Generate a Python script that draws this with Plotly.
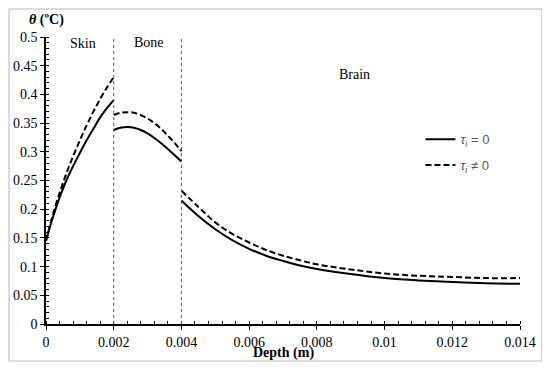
import plotly.graph_objects as go

# ---- data ----
depth_skin = [0, 0.0002, 0.0004, 0.0006, 0.0008, 0.001, 0.0012, 0.0014, 0.0016, 0.0018, 0.002]
skin_tau0 = [0.145, 0.185, 0.220, 0.250, 0.275, 0.298, 0.320, 0.340, 0.360, 0.376, 0.390]
skin_tau1 = [0.145, 0.190, 0.228, 0.262, 0.292, 0.320, 0.346, 0.370, 0.392, 0.412, 0.430]

depth_bone = [0.002, 0.0022, 0.0024, 0.0026, 0.0028, 0.003, 0.0032, 0.0034, 0.0036, 0.0038, 0.004]
bone_tau0 = [0.338, 0.342, 0.343, 0.342, 0.338, 0.332, 0.324, 0.315, 0.305, 0.294, 0.283]
bone_tau1 = [0.364, 0.368, 0.369, 0.368, 0.364, 0.358, 0.350, 0.340, 0.328, 0.315, 0.301]

depth_brain = [0.004, 0.0045, 0.005, 0.0055, 0.006, 0.0065, 0.007, 0.0075, 0.008,
               0.009, 0.010, 0.011, 0.012, 0.013, 0.014]
brain_tau0 = [0.215, 0.188, 0.165, 0.146, 0.131, 0.119, 0.110, 0.102, 0.096,
              0.087, 0.080, 0.076, 0.073, 0.071, 0.070]
brain_tau1 = [0.232, 0.204, 0.177, 0.157, 0.142, 0.129, 0.119, 0.111, 0.104,
              0.095, 0.088, 0.084, 0.082, 0.080, 0.080]

layer_bounds = [0.002, 0.004]
layer_names = ["Skin", "Bone", "Brain"]
layer_label_x = [0.0011, 0.00305, 0.0091]
layer_label_y = [0.488, 0.49, 0.435]

x_tickvals = [0, 0.002, 0.004, 0.006, 0.008, 0.01, 0.012, 0.014]
x_ticktext = ["0", "0.002", "0.004", "0.006", "0.008", "0.01", "0.012", "0.014"]
y_tickvals = [0, 0.05, 0.1, 0.15, 0.2, 0.25, 0.3, 0.35, 0.4, 0.45, 0.5]
y_ticktext = ["0", "0.05", "0.1", "0.15", "0.2", "0.25", "0.3", "0.35", "0.4", "0.45", "0.5"]

series_names = ["<i>τ<sub>i</sub></i> = 0", "<i>τ<sub>i</sub></i> ≠ 0"]


def join(xs_list, ys_list):
    X, Y = [], []
    for xs, ys in zip(xs_list, ys_list):
        if X:
            X.append(None)
            Y.append(None)
        X += xs
        Y += ys
    return X, Y


fig = go.Figure()
x0, y0 = join([depth_skin, depth_bone, depth_brain], [skin_tau0, bone_tau0, brain_tau0])
x1, y1 = join([depth_skin, depth_bone, depth_brain], [skin_tau1, bone_tau1, brain_tau1])

fig.add_trace(go.Scatter(x=x0, y=y0, mode="lines", name=series_names[0], legendgroup="a",
                         line=dict(color="black", width=2, shape="spline"),
                         connectgaps=False))
fig.add_trace(go.Scatter(x=x1, y=y1, mode="lines", name=series_names[1], legendgroup="b",
                         line=dict(color="black", width=2, dash="6px,3px", shape="spline"),
                         connectgaps=False))

serif = "Liberation Serif"

for b in layer_bounds:
    fig.add_shape(type="line", xref="x", yref="y", x0=b, x1=b, y0=0, y1=0.5,
                  line=dict(color="#555555", width=1, dash="dot"))

for name, lx, ly in zip(layer_names, layer_label_x, layer_label_y):
    fig.add_annotation(x=lx, y=ly, xref="x", yref="y", text=name, showarrow=False,
                       font=dict(family=serif, size=14, color="black"))

# chart border
fig.add_shape(type="rect", xref="paper", yref="paper",
              x0=-0.078, x1=1.046, y0=-0.129, y1=1.0976,
              line=dict(color="#cfcfcf", width=1.5))

fig.add_annotation(x=-0.04, y=1.059, xref="paper", yref="paper", xanchor="left",
                   yanchor="middle",
                   text="<b><i>θ</i> (ºC)</b>", showarrow=False,
                   font=dict(family=serif, size=14, color="black"))

fig.add_annotation(x=0.5, y=-0.101, xref="paper", yref="paper",
                   xanchor="center", yanchor="middle",
                   text="<b>Depth (m)</b>", showarrow=False,
                   font=dict(family=serif, size=14, color="black"))

# page body has an 8px margin, so the figure is offset by 8px
fig.update_layout(
    width=542, height=359,
    margin=dict(l=38, r=30, t=29, b=43, autoexpand=False),
    paper_bgcolor="white", plot_bgcolor="white",
    font=dict(family=serif, size=14, color="black"),
    showlegend=True,
    legend=dict(x=0.79, y=0.696, xanchor="left", yanchor="top",
                bgcolor="rgba(0,0,0,0)",
                font=dict(family="Liberation Sans", size=13, color="#555555"),
                tracegroupgap=6),
    xaxis=dict(range=[0, 0.014], tickvals=x_tickvals, ticktext=x_ticktext,
               automargin=False,
               showgrid=False, zeroline=False, showline=True, linecolor="black",
               linewidth=1.5, ticks="outside", ticklen=4, tickcolor="black",
               tickfont=dict(family=serif, size=14),
               minor=dict(dtick=0.0004, ticks="inside", ticklen=3, tickcolor="black", showgrid=False)),
    yaxis=dict(range=[0, 0.5], tickvals=y_tickvals, ticktext=y_ticktext,
               automargin=False,
               showgrid=False, zeroline=False, showline=True, linecolor="black",
               linewidth=1.5, ticks="outside", ticklen=4, tickcolor="black",
               tickfont=dict(family=serif, size=14),
               minor=dict(dtick=0.01, ticks="inside", ticklen=3, tickcolor="black", showgrid=False)),
)

fig.write_html("out.html")
